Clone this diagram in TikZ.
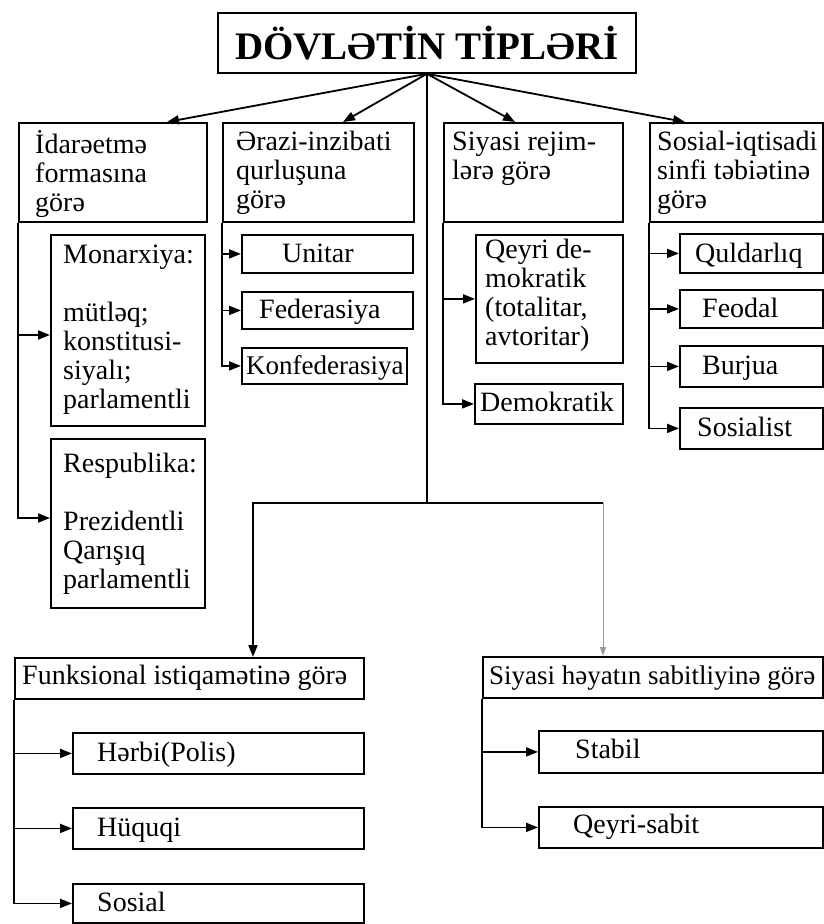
\documentclass[tikz,border=0pt]{standalone}
\usepackage{fontspec}
\setmainfont{Liberation Serif}
\usetikzlibrary{arrows.meta}
\newcommand\bodyfs{\fontsize{28}{29}\selectfont}
\newcommand\smallfs{\fontsize{27}{29}\selectfont}
\newcommand\titlefs{\fontsize{39}{44}\selectfont\bfseries}
\begin{document}
\begin{tikzpicture}[x=1pt,y=-1pt,
  bx/.style={draw, line width=1.8pt, inner sep=0pt, anchor=north west},
  txt/.style={inner sep=0pt, font=\bodyfs, align=left},
  ln/.style={line width=1.8pt},
  arr/.style={line width=1.8pt, -{Triangle[length=12pt,width=9pt]}},
  faint/.style={line width=1pt, draw=black!40, fill=black!40, -{Triangle[length=9pt,width=6pt]}}
]
\fill[white] (0,0) rectangle (824,924);
\useasboundingbox (0,0) rectangle (824,924);

% title
\node[bx, minimum width=418pt, minimum height=60pt, font=\titlefs] (T) at (217,12) {DÖVLƏTİN TİPLƏRİ};

% top row
\node[bx, minimum width=188pt, minimum height=99pt] (A) at (18,122) {};
\node[bx, minimum width=191pt, minimum height=99pt] (B) at (222,122) {};
\node[bx, minimum width=179pt, minimum height=99pt] (C) at (443,122) {};
\node[bx, minimum width=173pt, minimum height=99pt] (D) at (649,122) {};

\node[txt, anchor=north west] (tA) at ([xshift=17pt,yshift=-8pt]A.north west) {\strut İdarəetmə\\formasına\\görə};
\node[txt, anchor=north west] (tB) at ([xshift=14pt,yshift=-8pt]B.north west) {\strut Ərazi-inzibati\\qurluşuna\\görə};
\node[txt, anchor=north west] (tC) at ([xshift=9pt,yshift=-8pt]C.north west) {\strut Siyasi rejim-\\lərə görə};
\node[txt, anchor=north west] (tD) at ([xshift=8pt,yshift=-8pt]D.north west) {\strut Sosial-iqtisadi\\sinfi təbiətinə\\görə};

% children of A
\node[bx, minimum width=154pt, minimum height=191pt] (Mon) at (50,234) {};
\node[bx, minimum width=154pt, minimum height=169pt] (Res) at (50,438) {};
\node[txt, anchor=north west] (tMon) at ([xshift=13pt,yshift=-9pt]Mon.north west) {\strut Monarxiya:\\~\\mütləq;\\konstitusi-\\siyalı;\\parlamentli};
\node[txt, anchor=north west] (tRes) at ([xshift=13pt,yshift=-14pt]Res.north west) {\strut Respublika:\\~\\Prezidentli\\Qarışıq\\parlamentli};

% children of B
\node[bx, minimum width=171pt, minimum height=38pt] (Uni) at (241,234) {};
\node[bx, minimum width=171pt, minimum height=37pt] (Fed) at (241,291) {};
\node[bx, minimum width=165pt, minimum height=36pt] (Kon) at (241,347) {};
\node[txt, anchor=base west] (tUni) at ([xshift=41pt,yshift=-9pt]Uni.west) {Unitar};
\node[txt, anchor=base west] (tFed) at ([xshift=18pt,yshift=-8pt]Fed.west) {Federasiya};
\node[txt, anchor=base west, font=\smallfs] (tKon) at ([xshift=5pt,yshift=-9pt]Kon.west) {Konfederasiya};

% children of C
\node[bx, minimum width=147pt, minimum height=128pt] (Qey) at (475,234) {};
\node[bx, minimum width=148pt, minimum height=40pt] (Dem) at (474,383) {};
\node[txt, anchor=north west] (tQey) at ([xshift=10pt,yshift=-4pt]Qey.north west) {\strut Qeyri de-\\mokratik\\(totalitar,\\avtoritar)};
\node[txt, anchor=base west] (tDem) at ([xshift=6pt,yshift=-8pt]Dem.west) {Demokratik};

% children of D
\node[bx, minimum width=143pt, minimum height=39pt] (Qul) at (679,233) {};
\node[bx, minimum width=143pt, minimum height=38pt] (Feo) at (679,289) {};
\node[bx, minimum width=143pt, minimum height=41pt] (Bur) at (679,345) {};
\node[bx, minimum width=143pt, minimum height=41pt] (Sos) at (679,407) {};
\node[txt, anchor=base west] (tQul) at ([xshift=16pt,yshift=-9pt]Qul.west) {Quldarlıq};
\node[txt, anchor=base west] (tFeo) at ([xshift=23pt,yshift=-9pt]Feo.west) {Feodal};
\node[txt, anchor=base west] (tBur) at ([xshift=23pt,yshift=-8pt]Bur.west) {Burjua};
\node[txt, anchor=base west] (tSos) at ([xshift=18pt,yshift=-8pt]Sos.west) {Sosialist};

% lower left group
\node[bx, minimum width=349pt, minimum height=41pt] (Fun) at (14,657) {};
\node[bx, minimum width=291pt, minimum height=41pt] (Her) at (72,732) {};
\node[bx, minimum width=291pt, minimum height=41pt] (Huq) at (72,807) {};
\node[bx, minimum width=291pt, minimum height=39pt] (Sol) at (72,883) {};
\node[txt, anchor=base west] (tFun) at ([xshift=8pt,yshift=-6pt]Fun.west) {Funksional istiqamətinə görə};
\node[txt, anchor=base west] (tHer) at ([xshift=25pt,yshift=-8pt]Her.west) {Hərbi(Polis)};
\node[txt, anchor=base west] (tHuq) at ([xshift=25pt,yshift=-8pt]Huq.west) {Hüquqi};
\node[txt, anchor=base west] (tSol) at ([xshift=25pt,yshift=-8pt]Sol.west) {Sosial};

% lower right group
\node[bx, minimum width=340pt, minimum height=41pt] (Siy) at (482,656) {};
\node[bx, minimum width=284pt, minimum height=42pt] (Sta) at (538,730) {};
\node[bx, minimum width=284pt, minimum height=41pt] (Qsb) at (538,806) {};
\node[txt, anchor=base west, font=\smallfs] (tSiy) at ([xshift=7pt,yshift=-7pt]Siy.west) {Siyasi həyatın sabitliyinə görə};
\node[txt, anchor=base west] (tSta) at ([xshift=37pt,yshift=-7pt]Sta.west) {Stabil};
\node[txt, anchor=base west] (tQsb) at ([xshift=35pt,yshift=-6pt]Qsb.west) {Qeyri-sabit};

% connectors from the title
\draw[arr] (T.south) -- ([xshift=149pt]A.north west);
\draw[arr] (T.south) -- ([xshift=121pt]B.north west);
\draw[arr] (T.south) -- ([xshift=72pt]C.north west);
\draw[arr] (T.south) -- ([xshift=36pt]D.north west);

\coordinate (J) at (T.south |- 0,503);
\coordinate (Ktop) at ([xshift=121pt]Siy.north west);
\coordinate (K) at (Ktop |- J);
\draw[ln] (T.south) -- (J);
\draw[arr] (J) -| ([xshift=239pt]Fun.north west);
\draw[ln] (J) -- (K);
\draw[faint] (K) -- (Ktop);

% branch connectors
\draw[arr] (A.south west) |- (Mon.west |- 0,335);
\draw[arr] (A.south west) |- (Res.west |- 0,518);

\draw[arr] (B.south west) |- (Uni.west);
\draw[arr] (B.south west) |- (Fed.west);
\draw[arr] (B.south west) |- (Kon.west);

\draw[arr] (C.south west) |- (Qey.west);
\draw[arr] (C.south west) |- (Dem.west);

\draw[arr] (D.south west) |- (Qul.west);
\draw[arr] (D.south west) |- (Feo.west);
\draw[arr] (D.south west) |- (Bur.west);
\draw[arr] (D.south west) |- (Sos.west);

\draw[arr] (Fun.south west) |- (Her.west);
\draw[arr] (Fun.south west) |- (Huq.west);
\draw[arr] (Fun.south west) |- (Sol.west);

\draw[arr] (Siy.south west) |- (Sta.west);
\draw[arr] (Siy.south west) |- (Qsb.west);
\end{tikzpicture}
\end{document}
